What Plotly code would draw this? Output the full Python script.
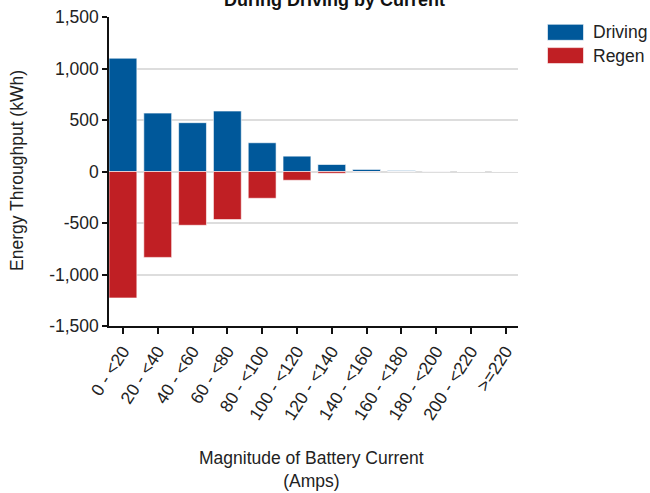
import plotly.graph_objects as go

categories = ["0 - <20", "20 - <40", "40 - <60", "60 - <80", "80 - <100", "100 - <120",
              "120 - <140", "140 - <160", "160 - <180", "180 - <200", "200 - <220", ">=220"]
driving = [1100, 567, 474, 587, 279, 149, 68, 20, 8, 5, 0, 0]
regen = [-1228, -834, -522, -467, -260, -85, -17, -3, -1, -1, 0, 0]
y_ticks = [-1500, -1000, -500, 0, 500, 1000, 1500]
y_tick_labels = ["-1,500", "-1,000", "-500", "0", "500", "1,000", "1,500"]

BLUE = "#00589a"
RED = "#c01f24"
FONT = "Liberation Sans, Arial, sans-serif"
FS = 17.5

W, H = 650, 493
L, T = 109, 17
R = W - 518
B = H - 326
pw = W - L - R
ph = H - T - B

def px_x(x):
    return (x - L) / pw

def px_y(y):
    return (H - B - y) / ph

fig = go.Figure()
fig.add_trace(go.Bar(x=categories, y=driving, name="Driving",
                     marker=dict(color=BLUE, line=dict(color="rgba(255,255,255,0.6)", width=1))))
fig.add_trace(go.Bar(x=categories, y=regen, name="Regen",
                     marker=dict(color=RED, line=dict(color="rgba(255,255,255,0.6)", width=1))))

shapes = []
annotations = []
for i, (name, col) in enumerate([("Driving", BLUE), ("Regen", RED)]):
    y0 = 24.3 + i * 23.3
    shapes.append(dict(type="rect", xref="paper", yref="paper",
                       x0=px_x(547.5), x1=px_x(583.5), y0=px_y(y0 + 16), y1=px_y(y0),
                       fillcolor=col, line=dict(color="rgba(255,255,255,0.6)", width=1)))
    annotations.append(dict(xref="paper", yref="paper", x=px_x(591), y=px_y(y0 + 8),
                            text=name, showarrow=False, xanchor="left", yanchor="middle",
                            font=dict(size=FS, color="#222", family=FONT)))

annotations.append(dict(xref="paper", yref="paper", x=px_x(334), y=px_y(12),
                        text="<b>Energy Throughput<br>During Driving by Current</b>", showarrow=False,
                        xanchor="center", yanchor="bottom", font=dict(size=FS + 0.5, color="#111", family=FONT)))
annotations.append(dict(xref="paper", yref="paper", x=px_x(17), y=px_y(171),
                        text="Energy Throughput (kWh)", showarrow=False, textangle=-90,
                        xanchor="center", yanchor="middle", font=dict(size=FS, color="#222", family=FONT)))
annotations.append(dict(xref="paper", yref="paper", x=px_x(311.5), y=px_y(469),
                        text="Magnitude of Battery Current<br>(Amps)", showarrow=False,
                        xanchor="center", yanchor="middle", font=dict(size=FS, color="#222", family=FONT)))

fig.update_layout(
    width=W, height=H,
    margin=dict(l=L, r=R, t=T, b=B, autoexpand=False),
    barmode="relative",
    bargap=0.2,
    plot_bgcolor="white", paper_bgcolor="white",
    showlegend=False,
    font=dict(family=FONT, size=FS, color="#222"),
    shapes=shapes,
    annotations=annotations,
)
fig.update_xaxes(
    range=[-0.4, 11.35], automargin=False,
    showline=True, linecolor="#111", linewidth=2,
    ticks="outside", ticklen=6, tickcolor="#111", tickwidth=2,
    tickangle=-57, tickfont=dict(size=FS, color="#222"),
    showgrid=False, zeroline=False,
)
fig.update_yaxes(
    range=[-1500, 1500], tickvals=y_ticks, ticktext=y_tick_labels, automargin=False,
    ticklabeloverflow="allow",
    showline=True, linecolor="#111", linewidth=1.5,
    ticks="outside", ticklen=5, tickcolor="#111", tickwidth=2,
    showgrid=True, gridcolor="#dddddd", gridwidth=2,
    zeroline=True, zerolinecolor="#dddddd", zerolinewidth=2,
    tickfont=dict(size=FS, color="#222"),
)
fig.write_html("out.html", config={"displayModeBar": False},
               post_script="document.body.style.margin='0';document.body.style.overflow='hidden';")
